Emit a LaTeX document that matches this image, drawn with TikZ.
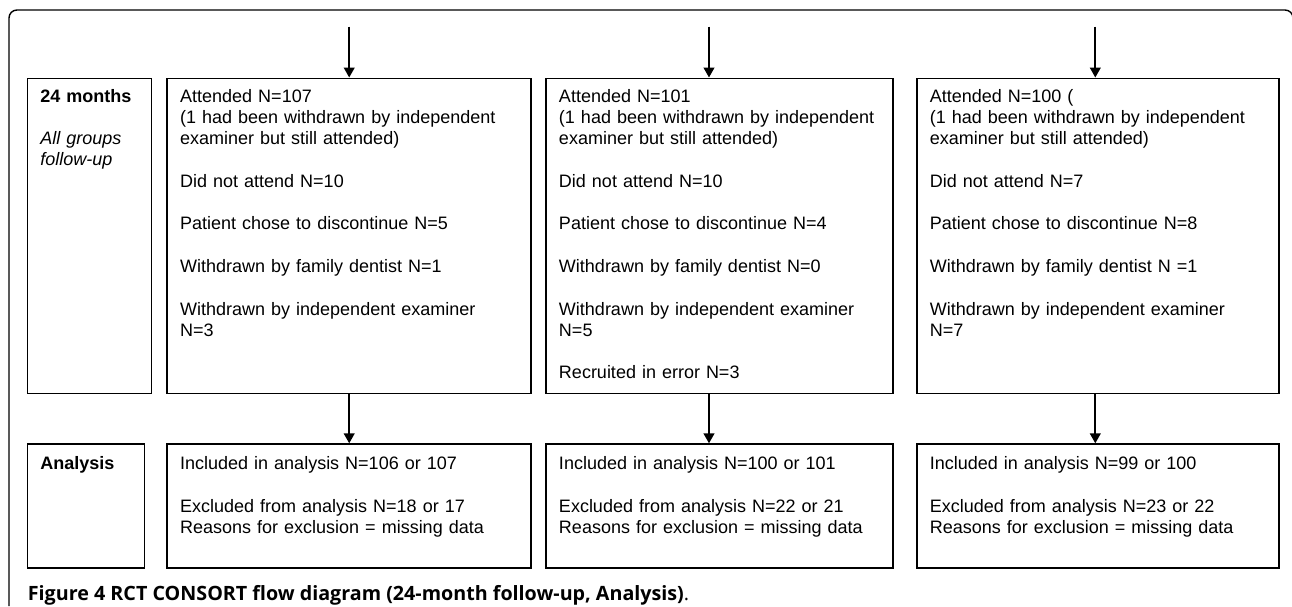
\documentclass[tikz,border=0pt]{standalone}
\usepackage{fontspec}
\setmainfont{Liberation Sans}
\newfontfamily\capfont{Open Sans}
\usepackage{tikz}
\usetikzlibrary{matrix, arrows.meta}

\begin{document}
\begin{tikzpicture} [>={Triangle[length=5pt, width=5.4pt]}, line width=0.9pt,
  box/.style={draw, inner xsep=6.5pt, inner ysep=0pt, align=left, font=\fontsize{9pt}{10.65pt}\selectfont},
  toprow/.style={box, text height=11.8pt, text depth=145.7pt},
  botrow/.style={box, text height=12.7pt, text depth=49.3pt}]
\useasboundingbox (0,0) rectangle (646pt,-303pt);
\draw [line width=0.7pt, rounded corners=4pt] (4.5pt,-303pt) -- (4.5pt,-5pt) -- (646.5pt,-5pt) -- (646.5pt,-303pt);
\matrix (m) [inner sep=0pt, column sep=0pt, row sep=24.5pt, anchor=north west] at (12.8pt,-38.3pt){
\node[toprow, text width=49pt](lab1){\textbf{24 months}\\[10.65pt]\textit{All groups}\\\textit{follow-up}}; &[7pt]
\node[toprow, text width=169pt](att1){Attended N=107\\(1 had been withdrawn by independent\\examiner but still attended)\\[10.65pt]Did not attend N=10\\[10.65pt]Patient chose to discontinue N=5\\[10.65pt]Withdrawn by family dentist N=1\\[10.65pt]Withdrawn by independent examiner\\N=3}; &[6.5pt]
\node[toprow, text width=160.5pt](att2){Attended N=101\\(1 had been withdrawn by independent\\examiner but still attended)\\[10.65pt]Did not attend N=10\\[10.65pt]Patient chose to discontinue N=4\\[10.65pt]Withdrawn by family dentist N=0\\[10.65pt]Withdrawn by independent examiner\\N=5\\[10.65pt]Recruited in error N=3}; &[11pt]
\node[toprow, text width=168pt](att3){Attended N=100 (\\(1 had been withdrawn by independent\\examiner but still attended)\\[10.65pt]Did not attend N=7\\[10.65pt]Patient chose to discontinue N=8\\[10.65pt]Withdrawn by family dentist N =1\\[10.65pt]Withdrawn by independent examiner\\N=7}; \\
\node[botrow, text width=45.5pt](lab2){\textbf{Analysis}}; &
\node[botrow, text width=169pt](ana1){Included in analysis N=106 or 107\\[10.65pt]Excluded from analysis N=18 or 17\\Reasons for exclusion = missing data}; &
\node[botrow, text width=160.5pt](ana2){Included in analysis N=100 or 101\\[10.65pt]Excluded from analysis N=22 or 21\\Reasons for exclusion = missing data}; &
\node[botrow, text width=168pt](ana3){Included in analysis N=99 or 100\\[10.65pt]Excluded from analysis N=23 or 22\\Reasons for exclusion = missing data}; \\
};
\coordinate (in1) at ([yshift=25.5pt]att1.north);
\coordinate (in2) at ([xshift=-5.25pt, yshift=25.5pt]att2.north);
\coordinate (in3) at ([xshift=-1.25pt, yshift=25.5pt]att3.north);
\draw [->](in1) -- (att1);
\draw [->](in2) -- (in2 |- att2.north);
\draw [->](in3) -- (in3 |- att3.north);
\draw [->](att1) -- (ana1);
\draw [->](att2.south -| in2) -- (ana2.north -| in2);
\draw [->](att3.south -| in3) -- (ana3.north -| in3);
\node[anchor=base west, inner sep=0pt, font=\capfont\fontsize{9.85pt}{11pt}\selectfont](caption) at (13.5pt,-300pt){\textbf{Figure 4 RCT CONSORT flow diagram (24-month follow-up, Analysis)}.};
\end{tikzpicture}
\end{document}
